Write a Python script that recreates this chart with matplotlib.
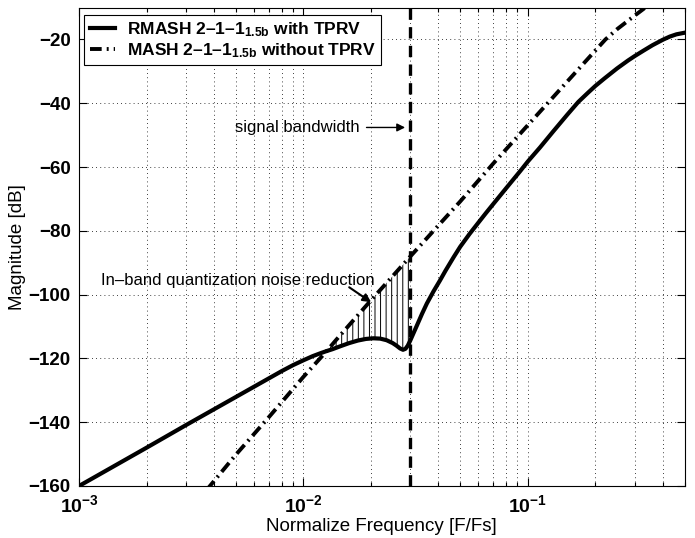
import math
import matplotlib
matplotlib.use("Agg")
import matplotlib.pyplot as plt
from matplotlib.ticker import FixedLocator, FuncFormatter, LogLocator, NullFormatter

# Noise transfer magnitude, RMASH 2-1-1 (1.5 bit) with TPRV
freq_rmash = [0.001, 0.002, 0.003, 0.005, 0.007, 0.008, 0.009, 0.01, 0.011, 0.012,
              0.0127, 0.0135, 0.0146, 0.016, 0.0175, 0.019, 0.0205, 0.022, 0.0235,
              0.025, 0.026, 0.027, 0.0278, 0.0285, 0.0292, 0.0299, 0.031, 0.0321,
              0.0338, 0.0355, 0.038, 0.0406, 0.043, 0.0467, 0.05, 0.055, 0.06,
              0.065, 0.07, 0.08, 0.0925, 0.1, 0.1133, 0.13, 0.15, 0.168, 0.185,
              0.2, 0.22, 0.25, 0.28, 0.3, 0.33, 0.36, 0.4, 0.43, 0.46, 0.5]
mag_rmash = [-160, -148, -140.9, -132.1, -126.3, -124.0, -122.1, -120.6, -119.3, -118.3,
             -117.7, -117.1, -116.2, -115.2, -114.4, -113.9, -113.7, -113.8, -114.3,
             -115.2, -116.0, -116.9, -117.3, -117.0, -116.0, -114.5, -112.0, -109.6,
             -106.0, -102.8, -99.0, -95.6, -92.5, -88.3, -85.0, -81.0, -77.6,
             -74.5, -71.7, -66.7, -61.3, -58.3, -53.9, -48.8, -43.6, -39.6, -36.8,
             -34.6, -32.2, -29.1, -26.6, -25.2, -23.4, -21.8, -20.1, -19.1, -18.4, -17.9]

# Noise transfer magnitude, MASH 2-1-1 (1.5 bit) without TPRV
freq_mash = [0.0037, 0.005, 0.007, 0.01, 0.0127, 0.014, 0.02, 0.03, 0.04, 0.05,
             0.07, 0.1, 0.15, 0.2, 0.222, 0.25, 0.3, 0.33, 0.36]
mag_mash = [-161.3, -150.2, -138.5, -125.8, -117.7, -114.2, -101.8, -88.0, -78.3,
            -70.8, -59.0, -46.9, -33.2, -23.5, -20.0, -16.8, -12.5, -10.3, -8.5]

signal_bw = 0.03
band_lo, band_hi = 0.0127, 0.0300

legend_labels = [r"RMASH 2–1–1$_{\mathbf{1.5b}}$ with TPRV",
                 r"MASH 2–1–1$_{\mathbf{1.5b}}$ without TPRV"]
x_ticks = [1e-3, 1e-2, 1e-1]
y_ticks = [-160, -140, -120, -100, -80, -60, -40, -20]

plt.rcParams["font.family"] = ["Liberation Sans", "DejaVu Sans"]
plt.rcParams["mathtext.fontset"] = "custom"
plt.rcParams["mathtext.rm"] = "Liberation Sans"
plt.rcParams["mathtext.bf"] = "Liberation Sans:bold"
plt.rcParams["mathtext.it"] = "Liberation Sans:italic"
plt.rcParams["hatch.linewidth"] = 0.7

fig = plt.figure(figsize=(6.95, 5.38), dpi=100)
ax = fig.add_axes([0.1137, 0.0967, 0.8713, 0.8893])
ax.set_xscale("log")
ax.set_xlim(1e-3, 0.5)
ax.set_ylim(-160, -10)

# shaded in-band reduction: area between the two curves
hx, hy = [], []
for f, m in zip(freq_rmash, mag_rmash):
    if band_lo <= f <= band_hi:
        hx.append(f)
        hy.append(m)
for f, m in reversed(list(zip(freq_mash, mag_mash))):
    if band_lo <= f <= band_hi:
        hx.append(f)
        hy.append(m)
ax.fill(hx, hy, facecolor="none", edgecolor="black", hatch="|||", linewidth=0, zorder=2)

line1, = ax.plot(freq_rmash, mag_rmash, color="black", lw=3.0, zorder=4)
line2, = ax.plot(freq_mash, mag_mash, color="black", lw=2.8, zorder=4,
                 linestyle=(0, (3.0, 1.3, 0.5, 1.3)), dash_capstyle="butt")
ax.axvline(signal_bw, color="black", lw=2.4, linestyle=(0, (3.4, 2.2)), zorder=4)

# grid
ax.xaxis.set_major_locator(FixedLocator(x_ticks))
ax.xaxis.set_minor_locator(LogLocator(base=10, subs=range(2, 10)))
ax.xaxis.set_minor_formatter(NullFormatter())
ax.yaxis.set_major_locator(FixedLocator(y_ticks))
ax.grid(True, which="major", color="black", lw=0.6, linestyle=(0, (1, 4)))
ax.grid(True, which="minor", axis="x", color="black", lw=0.6, linestyle=(0, (1, 4)))

ax.xaxis.set_major_formatter(FuncFormatter(
    lambda v, p: r"$\mathbf{10^{%d}}$" % round(math.log10(v))))
ax.yaxis.set_major_formatter(FuncFormatter(lambda v, p: f"{int(v)}".replace("-", "\u2212")))
ax.tick_params(which="both", direction="in", top=True, right=True, width=0.8)
ax.tick_params(which="major", length=6, labelsize=13.5)
ax.tick_params(which="minor", length=3)
ax.tick_params(axis="y", which="major", pad=6)
for lab in ax.get_yticklabels():
    lab.set_fontweight("bold")
ax.tick_params(axis="x", which="major", pad=6, labelsize=14)
for s in ax.spines.values():
    s.set_linewidth(0.8)

ax.set_xlabel("Normalize Frequency [F/Fs]", fontsize=13.5, labelpad=1)
ax.set_ylabel("Magnitude [dB]", fontsize=13.5, labelpad=2)

ax.annotate("signal bandwidth", xy=(0.0284, -47.6), xytext=(0.0178, -47.6),
            ha="right", va="center", fontsize=12,
            arrowprops=dict(arrowstyle="-|>", color="black", lw=1.0,
                            mutation_scale=12, shrinkA=3, shrinkB=0))
ax.text(0.00125, -97.0, "In–band quantization noise reduction", fontsize=12,
        ha="left", va="baseline")
ax.annotate("", xy=(0.02005, -102.4), xytext=(0.0160, -97.7),
            arrowprops=dict(arrowstyle="-|>", color="black", lw=1.5,
                            mutation_scale=12, shrinkA=0, shrinkB=0), zorder=5)

leg = ax.legend([line1, line2], legend_labels, loc="upper left",
                bbox_to_anchor=(0.009, 0.985), borderaxespad=0, fancybox=False,
                framealpha=1, edgecolor="black", handlelength=1.45,
                prop={"weight": "bold", "size": 12.5}, borderpad=0.3,
                labelspacing=0.15, handletextpad=0.7)
leg.get_frame().set_linewidth(0.8)

fig.savefig("out.png", dpi=100)
